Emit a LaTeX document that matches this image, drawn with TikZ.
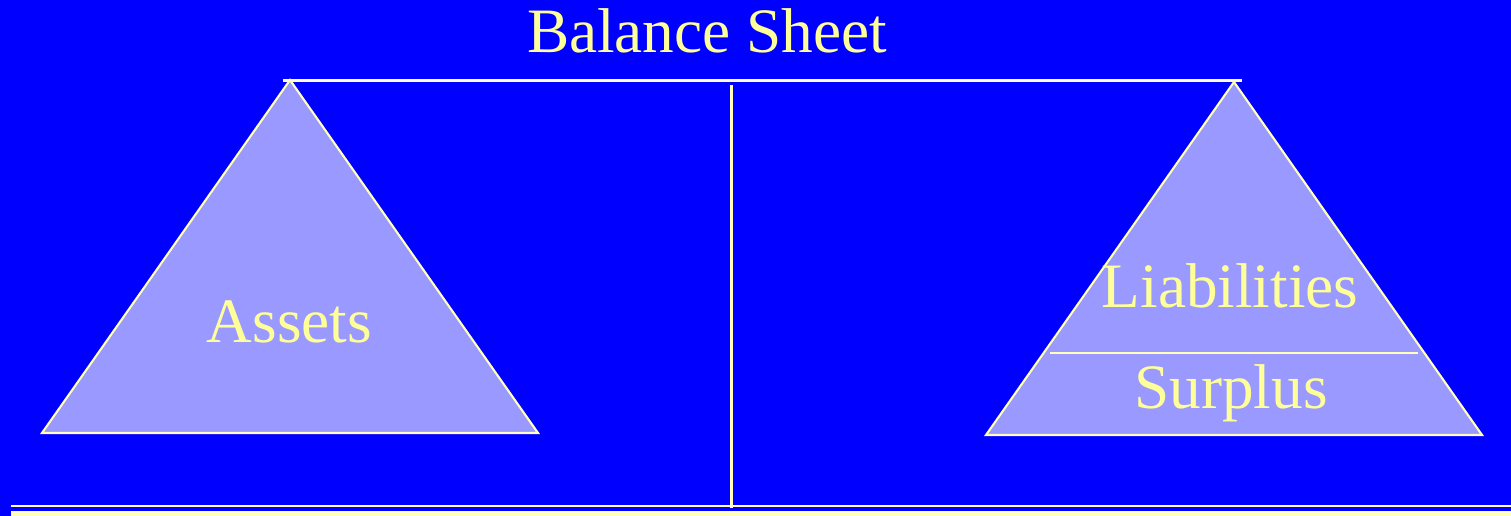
\documentclass[tikz,border=0pt]{standalone}
\usepackage{fontspec}
\setmainfont{Liberation Serif}
\definecolor{slidebg}{RGB}{0,0,255}
\definecolor{panfill}{RGB}{153,153,255}
\definecolor{rulecol}{RGB}{255,255,185}
\definecolor{textcol}{RGB}{255,255,153}
\tikzset{
  pan/.style={fill=panfill, draw=rulecol, line width=1.2pt, line join=miter},
  bar/.style={draw=rulecol, line width=1.4pt},
  lbl/.style={text=textcol, font=\fontsize{36}{40}\selectfont, anchor=base, inner sep=0pt}
}
\begin{document}
\begin{tikzpicture}[x=0.02cm, y=-0.02cm]
\fill[slidebg] (0,0) rectangle (1511,516);
\useasboundingbox (0,0) rectangle (1511,516);

\node[lbl] (title) at (707,53) {Balance Sheet};

\coordinate (beamL) at (283,80.5);
\coordinate (beamR) at (1242,80.5);
\coordinate (postT) at (731,85);
\coordinate (postB) at (731,508);
\draw[bar] (beamL) -- (beamR);
\draw[bar, line width=1.7pt] (postT) -- (postB);

\draw[pan] (290,80) -- (538,433) -- (42,433) -- cycle;
\node[lbl] (assets) at (289.5,343) {Assets};

\draw[pan] (1234,82) -- (1482,435) -- (986,435) -- cycle;
\coordinate (divL) at (1050,353);
\coordinate (divR) at (1418,353);
\draw[bar, line width=1.2pt] (divL) -- (divR);
\node[lbl] (liab) at (1230,308) {Liabilities};
\node[lbl] (surplus) at (1231,409) {Surplus};

\coordinate (floorL) at (11,506);
\coordinate (floorR) at (1511,506);
\coordinate (baseL) at (11,513.5);
\coordinate (baseR) at (1511,513.5);
\draw[bar, line width=1.1pt] (floorL) -- (floorR);
\draw[bar, line width=2.5pt] (baseL) -- (baseR);
\end{tikzpicture}
\end{document}
